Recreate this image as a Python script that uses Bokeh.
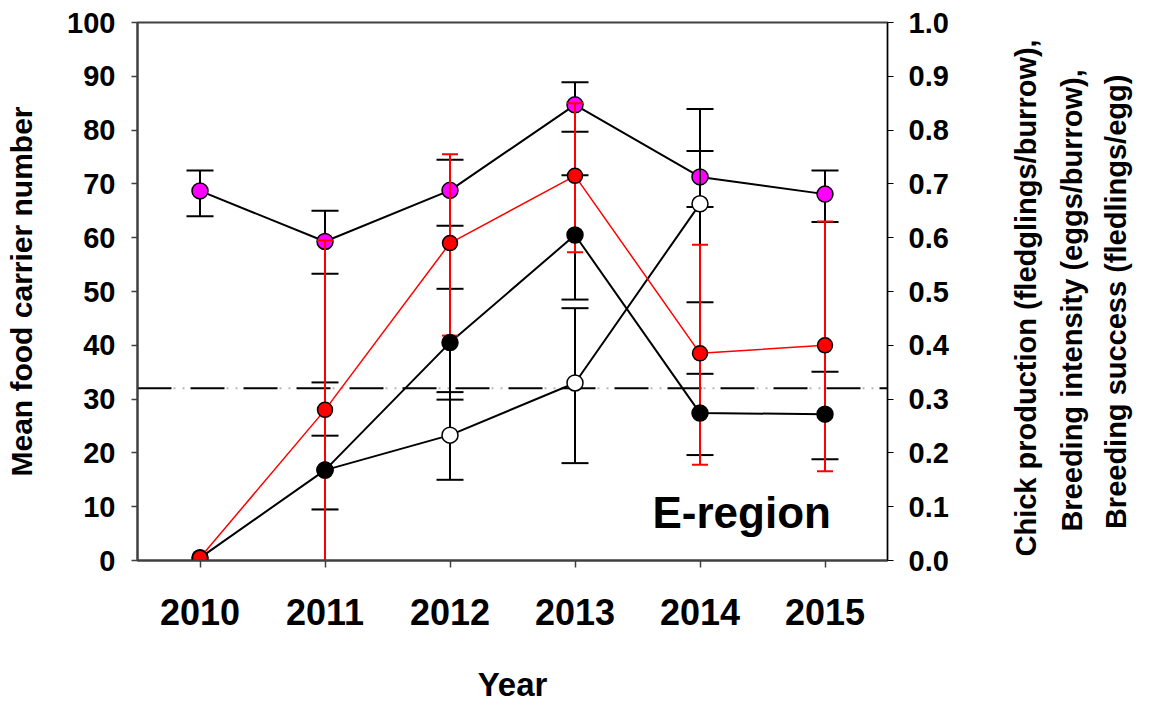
import math
from bokeh.plotting import figure
from bokeh.layouts import row
from bokeh.models import Range1d, LinearAxis, FixedTicker, Span, Label, NumeralTickFormatter
from bokeh.core.properties import value
from bokeh.embed import file_html
from bokeh.resources import INLINE

nan = float("nan")

# ---------------- data ----------------
years = [2010, 2011, 2012, 2013, 2014, 2015]
year_labels = ["2010", "2011", "2012", "2013", "2014", "2015"]
left_ticks = [0, 10, 20, 30, 40, 50, 60, 70, 80, 90, 100]
right_ticks = [0.0, 0.1, 0.2, 0.3, 0.4, 0.5, 0.6, 0.7, 0.8, 0.9, 1.0]

# Mean food carrier number (magenta, left axis)
food_mean = [68.7, 59.3, 68.8, 84.7, 71.3, 68.1]
food_low = [64.0, 53.3, 62.2, 79.7, 65.7, 62.9]
food_high = [72.5, 65.0, 74.5, 88.9, 76.1, 72.5]

# Breeding intensity (red, right axis)
intensity_mean = [0.005, 0.28, 0.59, 0.715, 0.385, 0.40]
intensity_low = [nan, -0.035, 0.418, 0.573, 0.178, 0.166]
intensity_high = [nan, 0.595, 0.755, 0.850, 0.587, 0.630]

# Chick production (black filled, right axis)
chick_years = [2011, 2012, 2013, 2014, 2015]
chick_mean = [0.168, 0.405, 0.605, 0.274, 0.272]
chick_low = [0.095, 0.299, 0.485, 0.196, 0.188]
chick_high = [0.232, 0.505, 0.716, 0.347, 0.351]

# Breeding success (open, right axis)
success_years = [2010, 2011, 2012, 2013, 2014]
success_mean = [0.005, 0.168, 0.233, 0.330, 0.663]
success_low = [nan, -0.005, 0.150, 0.181, 0.480]
success_high = [nan, 0.331, 0.313, 0.469, 0.839]

threshold = 32

right_title = ["Chick production (fledglings/burrow),",
               "Breeding intensity (eggs/burrow),",
               "Breeding success (fledlings/egg)"]

FONT = "Liberation Sans"

# ---------------- main figure ----------------
p = figure(frame_width=750, frame_height=538,
           x_range=Range1d(2009.5, 2015.5), y_range=Range1d(0, 100),
           output_backend="svg", toolbar_location=None,
           min_border_left=137, min_border_right=100,
           min_border_top=22, min_border_bottom=5)
p.extra_y_ranges = {"right": Range1d(0, 1)}
p.xgrid.visible = False
p.ygrid.visible = False
p.outline_line_color = "#404040"
p.outline_line_width = 2
p.background_fill_color = "white"
p.border_fill_color = "white"

# left axis
ya = p.yaxis[0]
ya.ticker = FixedTicker(ticks=left_ticks)
ya.axis_label = "Mean food carrier number"
ya.axis_line_color = "#404040"
ya.axis_line_width = 2
ya.major_tick_in = 0
ya.major_tick_out = 6
ya.major_tick_line_width = 1.5
ya.major_tick_line_color = "#404040"
ya.minor_tick_line_color = None
ya.major_label_text_font = FONT
ya.major_label_text_font_style = "bold"
ya.major_label_text_font_size = "29px"
ya.major_label_text_color = "black"
ya.major_label_standoff = 16
ya.axis_label_text_font = FONT
ya.axis_label_text_font_style = "bold"
ya.axis_label_text_font_size = "30px"
ya.axis_label_text_color = "black"
ya.axis_label_standoff = 26

# bottom axis
xa = p.xaxis[0]
xa.ticker = FixedTicker(ticks=years)
xa.major_label_overrides = {y: s for y, s in zip(years, year_labels)}
xa.axis_label = "Year"
xa.axis_line_color = "#404040"
xa.axis_line_width = 2
xa.major_tick_in = 0
xa.major_tick_out = 7
xa.major_tick_line_width = 1.5
xa.major_tick_line_color = "#404040"
xa.minor_tick_line_color = None
xa.major_label_text_font = FONT
xa.major_label_text_font_style = "bold"
xa.major_label_text_font_size = "36px"
xa.major_label_text_color = "black"
xa.major_label_standoff = 31
xa.axis_label_text_font = FONT
xa.axis_label_text_font_style = "bold"
xa.axis_label_text_font_size = "33px"
xa.axis_label_text_color = "black"
xa.axis_label_standoff = 38

# right axis
ra = LinearAxis(y_range_name="right", ticker=FixedTicker(ticks=right_ticks),
                formatter=NumeralTickFormatter(format="0.0"))
ra.axis_line_color = "black"
ra.axis_line_width = 1
ra.major_tick_in = 0
ra.major_tick_out = 6
ra.major_tick_line_width = 1
ra.major_tick_line_color = "black"
ra.minor_tick_line_color = None
ra.major_label_text_font = FONT
ra.major_label_text_font_style = "bold"
ra.major_label_text_font_size = "29px"
ra.major_label_text_color = "black"
ra.major_label_standoff = 15
p.add_layout(ra, "right")

# threshold dash-dot line
p.add_layout(Span(location=threshold, dimension="width", line_color="black",
                  line_width=2, line_dash="34 19", level="underlay"))
p.add_layout(Span(location=threshold, dimension="width", line_color="#b8b8b8",
                  line_width=2, line_dash="2 7 2 42", line_dash_offset=17,
                  level="underlay"))

# ---- magenta: food carriers ----
p.line(years, food_mean, line_color="black", line_width=2)
p.segment(years, food_low, years, food_high, line_color="black", line_width=2)
p.scatter(years, food_low, marker="dash", size=27, line_color="black", line_width=2)
p.scatter(years, food_high, marker="dash", size=27, line_color="black", line_width=2)
p.scatter(years, food_mean, marker="circle", size=16, fill_color="#FF00FF",
          line_color="black", line_width=1.5)

# ---- black filled: lines & errors ----
R = "right"
p.line(chick_years, chick_mean, line_color="black", line_width=2, y_range_name=R)
p.segment(chick_years, chick_low, chick_years, chick_high, line_color="black", line_width=2, y_range_name=R)
p.scatter(chick_years, chick_low, marker="dash", size=27, line_color="black", line_width=2, y_range_name=R)
p.scatter(chick_years, chick_high, marker="dash", size=27, line_color="black", line_width=2, y_range_name=R)

# ---- open: lines, errors, markers ----
p.line(success_years, success_mean, line_color="black", line_width=2, y_range_name=R)
p.segment(success_years, success_low, success_years, success_high, line_color="black", line_width=2, y_range_name=R)
p.scatter(success_years, success_low, marker="dash", size=27, line_color="black", line_width=2, y_range_name=R)
p.scatter(success_years, success_high, marker="dash", size=27, line_color="black", line_width=2, y_range_name=R)
p.scatter(success_years, success_mean, marker="circle", size=16, fill_color="white",
          line_color="black", line_width=1.5, y_range_name=R)

# ---- red: breeding intensity ----
p.line(years, intensity_mean, line_color="#FF0000", line_width=1.5, y_range_name=R)
p.segment(years, intensity_low, years, intensity_high, line_color="#FF0000", line_width=2, y_range_name=R)
p.scatter(years, intensity_low, marker="dash", size=16, line_color="#FF0000", line_width=2, y_range_name=R)
p.scatter(years, intensity_high, marker="dash", size=16, line_color="#FF0000", line_width=2, y_range_name=R)
p.scatter(years, intensity_mean, marker="circle", size=15, fill_color="#FF0000",
          line_color="black", line_width=1.5, y_range_name=R)

# ---- black filled markers on top ----
p.scatter(chick_years, chick_mean, marker="circle", size=16, fill_color="black",
          line_color="black", line_width=1.5, y_range_name=R)

# region label
p.add_layout(Label(x=2013.62, y=8.9, text="E-region", text_align="left",
                   text_baseline="alphabetic", text_font=FONT, text_font_style="bold",
                   text_font_size="44px", text_color="black"))

# ---------------- right title panel ----------------
H = 700
W2 = 147
# frame of this panel is aligned with the main frame (pixel rows 22..560)
t = figure(width=W2, height=H, x_range=Range1d(0, W2), y_range=Range1d(560, 22),
           output_backend="svg", toolbar_location=None,
           x_axis_type=None, y_axis_type=None,
           min_border_left=0, min_border_right=0, min_border_top=0, min_border_bottom=0)
t.xgrid.visible = False
t.ygrid.visible = False
t.outline_line_color = None
t.text(x=[38.5, 84.5, 128.0], y=[300, 302.5, 304], text=right_title, angle=math.pi / 2,
       text_align="center", text_baseline="middle",
       text_font=value(FONT), text_font_style=value("bold"),
       text_font_size="29px", text_color="black")

layout = row(p, t)
open("out.html", "w").write(file_html(layout, INLINE))
